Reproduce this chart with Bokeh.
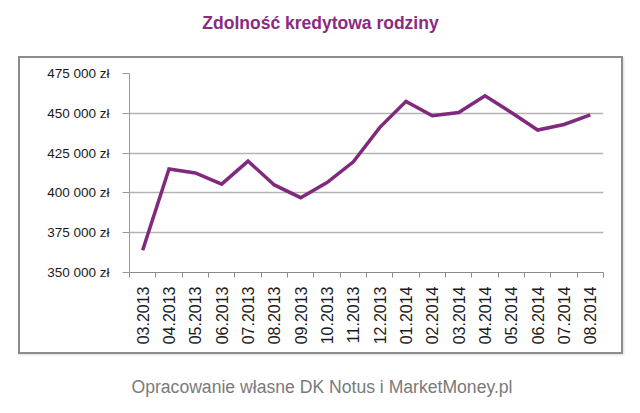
from bokeh.plotting import figure
from bokeh.models import (FixedTicker, LinearAxis, Range1d, InlineStyleSheet)
from bokeh.embed import file_html
from bokeh.resources import INLINE
import math

months = ["03.2013", "04.2013", "05.2013", "06.2013", "07.2013", "08.2013",
          "09.2013", "10.2013", "11.2013", "12.2013", "01.2014", "02.2014",
          "03.2014", "04.2014", "05.2014", "06.2014", "07.2014", "08.2014"]
values = [364000, 415000, 412500, 405500, 420000, 405000,
          397000, 406500, 419500, 441000, 457500, 448500,
          450500, 461000, 450500, 439500, 443000, 449000]
y_ticks = [350000, 375000, 400000, 425000, 450000, 475000]
y_tick_labels = ["350 000 zł", "375 000 zł", "400 000 zł", "425 000 zł", "450 000 zł", "475 000 zł"]
title_text = "Zdolność kredytowa rodziny"
source_text = "Opracowanie własne DK Notus i MarketMoney.pl"

FONT = "Liberation Sans"
n = len(months)
xs = list(range(n))

FL, FR, FT, FB = 129, 603, 73, 272  # frame edges in canvas pixels


def px_to_x(px):
    return -0.5 + (px - FL) / (FR - FL) * n


box_css = InlineStyleSheet(css="""
:host { position: relative; }
:host::after {
  content: ''; position: absolute; left: 18px; top: 56px; width: 605px; height: 298px;
  border: 2px solid #8c8c8c; box-sizing: border-box; pointer-events: none;
  box-shadow: 1px 1px 2px rgba(0,0,0,0.15);
}
""")

p = figure(width=640, height=413, output_backend="svg", toolbar_location=None, title=None,
           x_range=Range1d(-0.5, n - 0.5), y_range=Range1d(y_ticks[0], y_ticks[-1]),
           min_border_left=FL, min_border_right=640 - FR, min_border_top=FT, min_border_bottom=413 - FB,
           background_fill_color="white", border_fill_color="white", outline_line_color=None,
           stylesheets=[box_css])

p.line(xs, values, line_color="#7f2a7c", line_width=3.5, line_join="miter")

# x axis
p.xaxis.ticker = FixedTicker(ticks=xs, minor_ticks=[i - 0.5 for i in range(n + 1)])
p.xaxis.major_label_overrides = {i: m for i, m in enumerate(months)}
p.xaxis.major_label_orientation = math.pi / 2
p.xaxis.major_tick_line_color = None
p.xaxis.minor_tick_in = 0
p.xaxis.minor_tick_out = 5
p.xaxis.minor_tick_line_color = "#8a8a8a"
p.xaxis.axis_line_color = "#8a8a8a"
p.xaxis.axis_line_width = 1
p.xaxis.major_label_text_font = FONT
p.xaxis.major_label_text_font_size = "16px"
p.xaxis.major_label_text_color = "#1a1a1a"
p.xaxis.major_label_standoff = 8

# y axis
p.yaxis.ticker = FixedTicker(ticks=y_ticks)
p.yaxis.major_label_overrides = {v: t for v, t in zip(y_ticks, y_tick_labels)}
p.yaxis.minor_tick_line_color = None
p.yaxis.major_tick_in = 0
p.yaxis.major_tick_out = 7
p.yaxis.major_tick_line_color = "#9a9a9a"
p.yaxis.axis_line_color = "#9a9a9a"
p.yaxis.major_label_text_font = FONT
p.yaxis.major_label_text_font_size = "13.5px"
p.yaxis.major_label_text_color = "#1a1a1a"
p.yaxis.major_label_standoff = 13

p.xgrid.grid_line_color = None
p.ygrid.grid_line_color = "#b4b4b4"
p.ygrid.grid_line_width = 1.5


def text_axis(text, center_px, standoff, size, color, style):
    xc = px_to_x(center_px)
    ax = LinearAxis(ticker=FixedTicker(ticks=[xc]), major_label_overrides={xc: text},
                    axis_line_color=None, major_tick_line_color=None, minor_tick_line_color=None,
                    major_tick_in=0, major_tick_out=0, minor_tick_in=0, minor_tick_out=0,
                    major_label_standoff=standoff, major_label_text_font=FONT,
                    major_label_text_font_size=size, major_label_text_color=color,
                    major_label_text_font_style=style)
    return ax


# chart title (above the frame) and source note (below the x axis)
p.add_layout(text_axis(title_text, 320, 41, "17.5px", "#8b2a80", "bold"), "above")
p.add_layout(text_axis(source_text, 321.5, 29, "17.6px", "#7a7a7a", "normal"), "below")

open("out.html", "w").write(file_html(p, INLINE))
